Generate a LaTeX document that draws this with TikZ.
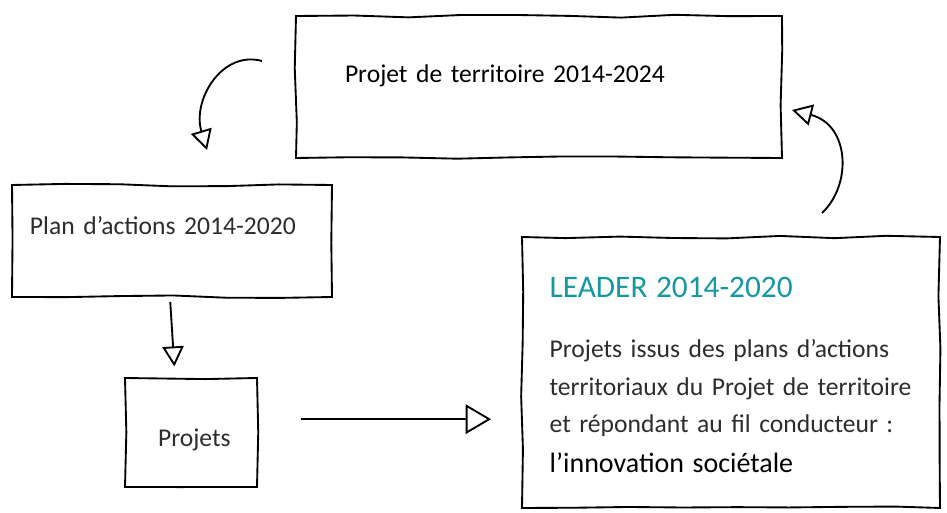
\documentclass[tikz,border=0pt]{standalone}
\usepackage{fontspec}
\setmainfont{Carlito}
\usepackage{xcolor}
\usepackage{tikz}
\usetikzlibrary{arrows.meta, decorations.pathmorphing}
\definecolor{leaderteal}{RGB}{22,152,162}
\definecolor{txtgray}{RGB}{45,45,45}

\begin{document}
\begin{tikzpicture}[x=0.75pt, y=-0.75pt,
            box/.style={draw, line width=1.4pt, fill=white, rectangle, inner ysep=0pt,
                decorate, decoration={random steps, segment length=40pt, amplitude=1.2pt}},
            arr/.style={line width=1.4pt, -{Triangle[open, length=15pt, width=16pt, line width=1.4pt]}},
            body/.style={font=\fontsize{19.2}{28.2}\selectfont, text=txtgray}]

            \useasboundingbox (0,0) rectangle (947,513);

            \node[box, minimum width=364.5pt, text width=291pt, inner xsep=36.75pt,
                  text height=50.25pt, text depth=56.25pt, align=left,
                  font=\fontsize{19.2}{24}\selectfont] (terr) at (539,87) {
                Projet de territoire 2014-2024
            };
            \node[box, body, minimum width=240pt, text width=213pt, inner xsep=13.5pt,
                  text height=37.5pt, text depth=46.5pt, align=left] (plan) at (172,241) {
                Plan d’actions 2014-2020
            };
            \node[box, body, minimum width=99pt, text width=90pt, inner xsep=4.5pt,
                  text height=51.75pt, text depth=30pt, align=center] (proj) at (191,432.5) {
                \hspace*{5pt}Projets
            };
            \node[box, body, minimum width=313.5pt, text width=272pt, inner xsep=20.75pt,
                  text height=45.75pt, text depth=157.5pt, align=left] (lead) at (731,372.5) {
                {\fontsize{23.5}{24}\selectfont\color{leaderteal}LEADER 2014-2020}\\[16.5pt]
                Projets issus des plans d’actions\\
                territoriaux du Projet de territoire\\
                et répondant au fil conducteur :\\[1.8pt]
                {\fontsize{21}{24}\selectfont\color{black}l’innovation sociétale}
            };

            % free ends of the curved arrows
            \coordinate (c1s) at (262,61);
            \coordinate (c1e) at (207,150);
            \coordinate (c2s) at (822,213);
            \coordinate (c2e) at (792,110);

            \draw[arr] (c1s) .. controls (222,50) and (192,100) .. (c1e);
            \draw[arr] (c2s) .. controls (852,185) and (850,125) .. (c2e);
            \draw[arr, shorten <=3pt, shorten >=8pt] ([xshift=-1.5pt]plan.south) -- ([xshift=-12pt]proj.north);
            \draw[arr, -{Triangle[open, length=19pt, width=22pt, line width=1.4pt]},
                  shorten <=32pt, shorten >=22.5pt] ([yshift=10pt]proj.east) -- ([yshift=10pt]proj.east -| lead.west);
        \end{tikzpicture}
\end{document}
